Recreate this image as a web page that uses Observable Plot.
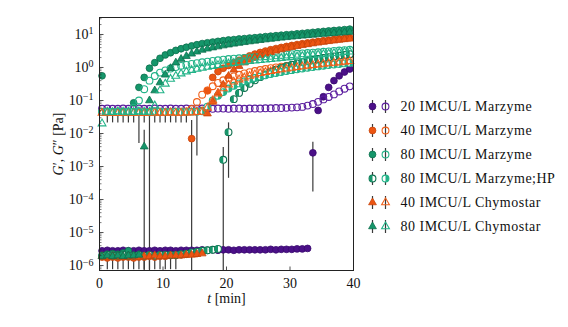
<!DOCTYPE html>
<html><head><meta charset="utf-8">
<script src="https://cdn.jsdelivr.net/npm/d3@7"></script>
<script src="https://cdn.jsdelivr.net/npm/@observablehq/plot@0.6"></script>
<style>
html,body{margin:0;padding:0;background:#fff;}
#wrap{position:relative;width:568px;height:327px;overflow:hidden;font-family:"Liberation Serif",serif;}
#chart{position:absolute;left:0;top:0;}
#legend{position:absolute;left:360px;top:90px;}
#legend text{letter-spacing:0.5px;}
</style></head><body>
<div id="wrap"><div id="chart"></div><div id="legend"></div></div>
<script>
// ---- data ----
const T = [0.4,1.23,2.06,2.89,3.72,4.55,5.38,6.21,7.04,7.87,8.7,9.53,10.36,11.19,12.02,12.85,13.68,14.51,15.34,16.17,17.0,17.83,18.66,19.49,20.32,21.15,21.98,22.81,23.64,24.47,25.3,26.13,26.96,27.79,28.62,29.45,30.28,31.11,31.94,32.77,33.6,34.43,35.26,36.09,36.92,37.75,38.58,39.41];

const seriesNames = ["20 IMCU/L Marzyme","40 IMCU/L Marzyme","80 IMCU/L Marzyme","80 IMCU/L Marzyme;HP","40 IMCU/L Chymostar","80 IMCU/L Chymostar"];

const m20_Gp = [2.8e-6,2.9e-6,2.8e-6,2.8e-6,2.9e-6,2.8e-6,2.8e-6,2.9e-6,2.8e-6,2.8e-6,2.9e-6,2.8e-6,2.9e-6,2.9e-6,2.8e-6,2.9e-6,2.9e-6,2.9e-6,2.9e-6,3.0e-6,2.9e-6,3.0e-6,2.9e-6,3.0e-6,3.0e-6,2.9e-6,3.0e-6,3.0e-6,3.0e-6,3.0e-6,3.0e-6,3.0e-6,3.1e-6,3.0e-6,3.1e-6,3.1e-6,3.1e-6,3.2e-6,3.2e-6,3.3e-6,2.6e-3,0.05,0.13,0.25,0.4,0.56,0.73,0.9];
const m20_Gpp = [0.056,0.057,0.056,0.056,0.057,0.056,0.056,0.057,0.056,0.056,0.057,0.056,0.056,0.057,0.056,0.056,0.057,0.056,0.056,0.057,0.056,0.056,0.057,0.057,0.056,0.057,0.057,0.056,0.057,0.057,0.057,0.058,0.058,0.059,0.059,0.060,0.061,0.062,0.064,0.070,0.078,0.091,0.108,0.128,0.153,0.188,0.228,0.268];

const m40_Gp = [1.8e-6,1.7e-6,1.8e-6,1.7e-6,1.8e-6,1.8e-6,1.7e-6,1.8e-6,1.8e-6,1.9e-6,1.8e-6,1.9e-6,1.9e-6,2.0e-6,2.0e-6,2.1e-6,2.2e-6,7e-3,2.3e-6,0.05,0.2,0.5,0.75,0.95,1.15,1.4,1.65,1.95,2.25,2.55,2.85,3.15,3.45,3.75,4.05,4.35,4.65,4.95,5.25,5.55,5.85,6.15,6.45,6.75,7.05,7.35,7.65,7.95];
const m40_Gpp = [0.045,0.044,0.045,0.046,0.045,0.044,0.045,0.045,0.046,0.045,0.044,0.045,0.045,0.046,0.045,0.046,0.047,0.055,0.09,0.15,0.2,0.27,0.34,0.41,0.48,0.54,0.6,0.66,0.72,0.78,0.84,0.9,0.96,1.01,1.06,1.11,1.16,1.21,1.26,1.31,1.36,1.41,1.46,1.51,1.56,1.62,1.68,1.75];

const m80_Gp = [0.56,2.2e-6,2.3e-6,2.2e-6,2.4e-6,2.8e-6,0.085,0.25,0.5,0.95,1.4,1.9,2.4,2.8,3.3,3.7,4.1,4.5,4.9,5.3,5.6,5.9,6.2,6.5,6.8,7.0,7.3,7.5,7.8,8.0,8.3,8.6,8.9,9.2,9.5,9.8,10.1,10.5,10.8,11.2,11.6,12.0,12.4,12.8,13.2,13.6,14.0,14.5];
const m80_Gpp = [0.045,0.046,0.045,0.044,0.045,0.046,0.06,0.1,0.22,0.4,0.55,0.7,0.82,0.93,1.03,1.12,1.2,1.28,1.36,1.44,1.51,1.58,1.65,1.72,1.8,1.85,1.9,1.96,2.02,2.08,2.14,2.2,2.26,2.33,2.4,2.46,2.53,2.6,2.68,2.75,2.83,2.9,3.0,3.08,3.17,3.26,3.35,3.45];

const hp_Gp = [2.0e-6,2.1e-6,2.0e-6,2.0e-6,2.1e-6,2.0e-6,2.0e-6,2.1e-6,2.0e-6,2.1e-6,2.0e-6,2.1e-6,2.1e-6,2.1e-6,2.1e-6,2.2e-6,2.3e-6,2.5e-6,2.6e-6,2.8e-6,2.9e-6,3.0e-6,3.2e-6,1.6e-3,0.011,0.11,0.17,0.24,0.32,0.41,0.51,0.62,0.73,0.85,0.97,1.09,1.21,1.33,1.45,1.57,1.69,1.81,1.93,2.05,2.17,2.29,2.41,2.53];
const hp_Gpp = [0.045,0.046,0.045,0.045,0.044,0.045,0.046,0.045,0.045,0.044,0.045,0.046,0.045,0.045,0.046,0.045,0.045,0.046,0.046,0.047,0.065,0.1,0.14,0.18,0.23,0.28,0.33,0.38,0.43,0.48,0.53,0.58,0.63,0.68,0.73,0.78,0.83,0.88,0.93,0.98,1.03,1.08,1.13,1.18,1.23,1.28,1.33,1.38];

const c40_Gp = [1.9e-6,1.8e-6,1.9e-6,1.9e-6,1.8e-6,1.9e-6,1.9e-6,1.8e-6,1.9e-6,1.9e-6,2.0e-6,1.9e-6,1.9e-6,2.0e-6,2.0e-6,2.0e-6,2.1e-6,2.1e-6,2.2e-6,2.3e-6,0.04,0.09,0.17,0.3,0.55,0.85,1.1,1.4,1.7,2.0,2.3,2.6,2.9,3.2,3.5,3.8,4.1,4.4,4.7,5.0,5.3,5.6,5.9,6.2,6.5,6.8,7.1,7.4];
const c40_Gpp = [0.042,0.043,0.042,0.041,0.042,0.043,0.042,0.042,0.041,0.042,0.043,0.042,0.042,0.043,0.042,0.042,0.043,0.043,0.044,0.045,0.06,0.1,0.16,0.23,0.3,0.37,0.43,0.49,0.55,0.61,0.67,0.72,0.77,0.82,0.87,0.92,0.97,1.02,1.07,1.12,1.17,1.22,1.27,1.32,1.37,1.42,1.48,1.54];

const c80_Gp = [1.9e-6,2.0e-6,1.9e-6,2.0e-6,1.9e-6,2.0e-6,2.0e-6,2.1e-6,4e-3,0.1,0.2,0.35,0.6,0.95,1.4,1.8,2.2,2.6,3.0,3.4,3.7,4.0,4.3,4.6,4.9,5.2,5.5,5.8,6.1,6.4,6.7,7.0,7.3,7.6,7.9,8.2,8.5,8.8,9.1,9.4,9.7,10.0,10.3,10.6,10.9,11.2,11.5,11.8];
const c80_Gpp = [0.02,0.045,0.044,0.046,0.045,0.045,0.044,0.046,0.045,0.045,0.07,0.2,0.32,0.45,0.55,0.65,0.75,0.83,0.9,0.97,1.04,1.1,1.17,1.23,1.3,1.36,1.42,1.48,1.54,1.6,1.66,1.72,1.78,1.85,1.92,1.99,2.06,2.13,2.2,2.28,2.36,2.44,2.52,2.6,2.7,2.8,2.9,3.0];

// error bars: time, lower, upper
const errT  = [1.23,2.06,2.89,3.72,4.55,5.38,6.21,7.04,7.87,8.7,9.53,10.36,11.19,12.02,
               1.23,2.06,2.89,3.72,4.55,5.38,6.21,7.04,7.87,8.7,9.53,10.36,11.19,12.02,12.85,13.68,
               7.04,14.51,15.34,19.49,20.32,33.6];
const errLo = [7.5e-7,7.5e-7,7.5e-7,7.5e-7,7.5e-7,7.5e-7,7.5e-7,7.5e-7,7.5e-7,7.5e-7,7.5e-7,7.5e-7,7.5e-7,7.5e-7,
               0.021,0.021,0.021,0.021,0.021,0.021,0.005,0.021,7e-7,0.021,0.021,0.021,0.021,0.021,0.021,0.021,
               7e-7,7e-7,2.1e-3,7e-7,4.4e-4,1.7e-4];
const errHi = [2e-6,2e-6,2e-6,2e-6,2e-6,2e-6,2e-6,2e-6,2e-6,2e-6,2e-6,2e-6,2e-6,2e-6,
               0.045,0.045,0.045,0.045,0.045,0.045,0.045,0.045,0.045,0.045,0.045,0.045,0.045,0.045,0.045,0.045,
               0.0126,0.025,0.063,3.8e-3,0.021,5.4e-3];

const xTicks = [0,10,20,30,40];
const yTicks = [1e-6,1e-5,1e-4,1e-3,1e-2,1e-1,1,10];

// ---- styles ----
const PURPLE = "#4b1088", PURPLE_D = "#3a0a6e", PURPLE_O = "#5a1c9e";
const ORANGE = "#ec5512", ORANGE_D = "#c8440a", ORANGE_O = "#f0601a";
const GREEN = "#15966a", GREEN_D = "#0c6e4c", GREEN_O = "#22b388";

const leftHalf = {draw(ctx, size){const r=Math.sqrt(size/Math.PI); ctx.moveTo(0,-r); ctx.arc(0,0,r,-Math.PI/2,Math.PI/2,true); ctx.closePath();}};
const rightHalf = {draw(ctx, size){const r=Math.sqrt(size/Math.PI); ctx.moveTo(0,-r); ctx.arc(0,0,r,-Math.PI/2,Math.PI/2,false); ctx.closePath();}};
const hTickMajor = {draw(ctx){ctx.moveTo(0,0); ctx.lineTo(4,0);}};
const hTickMinor = {draw(ctx){ctx.moveTo(0,0); ctx.lineTo(2,0);}};
const vTickMajor = {draw(ctx){ctx.moveTo(0,0); ctx.lineTo(0,-4);}};
const vLine = {draw(ctx){ctx.moveTo(0,-6.5); ctx.lineTo(0,6.5);}};

const RC = 3.4, RT = 2.9;
// each layer: symbol, fill, stroke, radius
const styles = [
  {gp:[["circle",PURPLE,PURPLE_D,RC]], gpp:[["circle","none",PURPLE_O,RC]]},
  {gp:[["circle",ORANGE,ORANGE_D,RC]], gpp:[["circle","none",ORANGE_O,RC]]},
  {gp:[["circle",GREEN,GREEN_D,RC]], gpp:[["circle","none",GREEN_O,RC]]},
  {gp:[["circle","white",GREEN_D,RC],[leftHalf,GREEN,"none",RC]], gpp:[["circle","white",GREEN_O,RC],[rightHalf,GREEN_O,"none",RC]]},
  {gp:[["triangle",ORANGE,ORANGE_D,RT]], gpp:[["triangle","none",ORANGE_O,RT]]},
  {gp:[["triangle",GREEN,GREEN_D,RT]], gpp:[["triangle","none",GREEN_O,RT]]}
];
const seriesData = [[m20_Gp,m20_Gpp],[m40_Gp,m40_Gpp],[m80_Gp,m80_Gpp],[hp_Gp,hp_Gpp],[c40_Gp,c40_Gpp],[c80_Gp,c80_Gpp]];

function rows(arr){ return T.map((t,i)=>({t, v:arr[i]})).filter(d=>d.v!=null); }
function layerMarks(data, layers, xo, yo){
  return layers.map(([symbol, fill, stroke, r]) => Plot.dot(data, {x:xo, y:yo, symbol, fill, stroke, r, strokeWidth: fill==="none"||fill==="white"?1.1:0.8}));
}

const errData = errT.map((t,i)=>({t, lo:errLo[i], hi:errHi[i]}));

// minor ticks for the log axis
const yMinor = [];
for (let e=-7; e<=1; e++) for (let k=2; k<=9; k++) { const v=k*Math.pow(10,e); if (v>7.1e-7 && v<32) yMinor.push(v); }

const marks = [
  Plot.ruleX(errData, {x:"t", y1:"lo", y2:"hi", stroke:"#3a3a3a", strokeWidth:1.2, clip:true})
];
seriesData.forEach(([gp,gpp], i) => {
  marks.push(...layerMarks(rows(gp), styles[i].gp, "t", "v"));
  marks.push(...layerMarks(rows(gpp), styles[i].gpp, "t", "v"));
});
marks.push(
  Plot.frame({stroke:"#222", strokeWidth:1}),
  Plot.dot(yTicks, {y:d=>d, frameAnchor:"left", symbol:hTickMajor, stroke:"#222", strokeWidth:0.8}),
  Plot.dot(yMinor, {y:d=>d, frameAnchor:"left", symbol:hTickMinor, stroke:"#222", strokeWidth:0.6}),
  Plot.dot(xTicks, {x:d=>d, frameAnchor:"bottom", symbol:vTickMajor, stroke:"#222", strokeWidth:0.8}),
  Plot.axisX({ticks:xTicks, tickSize:0, tickPadding:8, tickFormat:d=>String(d), label:"t [min]", labelAnchor:"center", labelOffset:32}),
  Plot.axisY({ticks:yTicks, tickSize:0, tickPadding:6, tickFormat:d=>String(Math.round(Math.log10(d))), label:"G′, G″ [Pa]", labelAnchor:"center", labelOffset:46})
);

const chart = Plot.plot({
  width:568, height:327,
  marginLeft:99, marginRight:215, marginTop:17, marginBottom:57,
  x:{domain:[0,40]},
  y:{type:"log", domain:[7.08e-7, 32.7]},
  style:{fontFamily:"'Liberation Serif', serif", fontSize:"14px", background:"transparent", color:"#111"},
  marks
});

// superscript exponents for the log tick labels
chart.querySelectorAll('[aria-label="y-axis tick label"] text').forEach(el => {
  const e = el.textContent;
  el.textContent = "10";
  const s = document.createElementNS("http://www.w3.org/2000/svg","tspan");
  s.setAttribute("dy","-0.45em");
  s.setAttribute("font-size","10");
  s.textContent = e.replace("-","−");
  el.appendChild(s);
});
function italicize(sel, parts){
  const el = chart.querySelector(sel);
  if (!el) return;
  el.textContent = "";
  parts.forEach(([txt, it]) => {
    const s = document.createElementNS("http://www.w3.org/2000/svg","tspan");
    if (it) s.setAttribute("font-style","italic");
    s.textContent = txt;
    el.appendChild(s);
  });
}
italicize('[aria-label="x-axis label"] text', [["t",1],[" [min]",0]]);
italicize('[aria-label="y-axis label"] text', [["G",1],["′, ",0],["G",1],["″ [Pa]",0]]);
document.getElementById("chart").appendChild(chart);

// ---- legend ----
const legendMarks = [];
seriesNames.forEach((name, i) => {
  legendMarks.push(Plot.dot([{k:"Gp",name},{k:"Gpp",name}], {x:"k", y:"name", symbol:vLine, stroke:"#3a3a3a", strokeWidth:1.2}));
  legendMarks.push(...layerMarks([{k:"Gp",name}], styles[i].gp, "k", "name"));
  legendMarks.push(...layerMarks([{k:"Gpp",name}], styles[i].gpp, "k", "name"));
});
legendMarks.push(Plot.text(seriesNames, {x:()=>"Gpp", y:d=>d, text:d=>d, dx:15, textAnchor:"start", fontSize:14, fill:"#111"}));
const legend = Plot.plot({
  width:200, height:160, marginLeft:12, marginRight:175, marginTop:15, marginBottom:23,
  x:{type:"point", domain:["Gp","Gpp"], padding:0, axis:null},
  y:{type:"point", domain:seriesNames, padding:0, axis:null},
  style:{fontFamily:"'Liberation Serif', serif", fontSize:"14px", background:"transparent", overflow:"visible"},
  marks: legendMarks
});
document.getElementById("legend").appendChild(legend);
</script>
</body></html>
